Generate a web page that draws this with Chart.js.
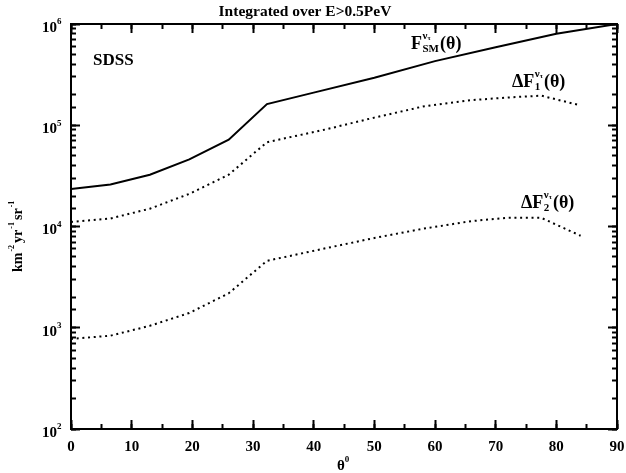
<!DOCTYPE html>
<html>
<head>
<meta charset="utf-8">
<title>Integrated over E>0.5PeV</title>
<script src="https://cdn.jsdelivr.net/npm/chart.js@4.4.1/dist/chart.umd.min.js"></script>
<style>
  html, body { margin: 0; padding: 0; background: #fff; }
  canvas { display: block; }
</style>
</head>
<body>
<canvas id="flux" width="626" height="473"></canvas>
<script>
// zenith angle theta (degrees) vs. integrated flux above 0.5 PeV, km^-2 yr^-1 sr^-1
var smTheta = [0, 6.5, 13, 19.5, 26, 32.3, 40, 50, 60, 70, 80, 90];
var smFlux  = [2.35e4, 2.6e4, 3.25e4, 4.6e4, 7.2e4, 1.62e5, 2.1e5, 2.95e5, 4.3e5, 5.9e5, 8.0e5, 1.0e6];

var deltaTheta = [0, 6.5, 13, 19.5, 26, 32.3, 42, 50, 58, 66, 72, 77.5, 84];
var deltaF1 = [1.11e4, 1.2e4, 1.5e4, 2.1e4, 3.25e4, 6.8e4, 9.1e4, 1.19e5, 1.53e5, 1.77e5, 1.88e5, 1.96e5, 1.57e5];
var deltaF2 = [775, 835, 1045, 1400, 2190, 4580, 6100, 7700, 9500, 11300, 12200, 12200, 8100];

var xTickLabels = [0, 10, 20, 30, 40, 50, 60, 70, 80, 90];
var yDecades = [2, 3, 4, 5, 6];

var SERIF = '"Liberation Serif", "DejaVu Serif", serif';

function points(xs, ys) {
  return xs.map(function(x, i) { return { x: x, y: ys[i] }; });
}

function font(size) {
  return 'bold ' + size + 'px ' + SERIF;
}

// writes a piece of text and returns the x where it ends
function put(ctx, str, x, y, size, dy) {
  ctx.font = font(size);
  ctx.fillText(str, x, y + (dy || 0));
  return x + ctx.measureText(str).width;
}

// F-type curve label: main letter, nu_tau superscript, subscript, then (theta)
function fluxLabel(ctx, prefix, sub, x, y) {
  var x1 = put(ctx, prefix, x, y, 18);
  var xs = put(ctx, 'ν', x1 + 0.5, y, 11, -8);
  xs = put(ctx, 'τ', xs, y, 7, -6);
  var xb = put(ctx, sub, x1 + 0.5, y, 11, 5);
  put(ctx, '(θ)', Math.max(xs, xb) + 1, y, 18);
}

function isDecade(v) {
  var m = v / Math.pow(10, Math.round(Math.log10(v)));
  return Math.abs(m - 1) < 1e-6;
}

var decorations = {
  id: 'decorations',
  afterDraw: function(chart) {
    var ctx = chart.ctx;
    var a = chart.chartArea;
    var xs = chart.scales.x;
    var ys = chart.scales.y;

    ctx.save();
    ctx.setLineDash([]);
    ctx.strokeStyle = '#000';
    ctx.fillStyle = '#000';

    // frame
    ctx.lineWidth = 2;
    ctx.strokeRect(a.left, a.top, a.right - a.left, a.bottom - a.top);

    // x tick labels
    ctx.textBaseline = 'middle';
    ctx.textAlign = 'center';
    xTickLabels.forEach(function(v) {
      put(ctx, String(v), xs.getPixelForValue(v), a.bottom + 18, 15);
    });

    // y tick labels 10^n
    ctx.textAlign = 'left';
    yDecades.forEach(function(n) {
      var yy = ys.getPixelForValue(Math.pow(10, n)) + 4;
      var xe = put(ctx, '10', a.left - 29, yy, 15);
      put(ctx, String(n), xe, yy, 9, -6);
    });

    // x axis title
    var xt = put(ctx, 'θ', 337, 466, 15);
    put(ctx, '0', xt, 466, 9, -6);

    // y axis title, rotated
    ctx.save();
    ctx.translate(18, 272);
    ctx.rotate(-Math.PI / 2);
    var tx = put(ctx, 'km', 0, 0, 14);
    tx = put(ctx, '-2', tx + 1, 0, 8, -6);
    tx = put(ctx, 'yr', tx + 2, 0, 14);
    tx = put(ctx, '-1', tx + 1, 0, 8, -6);
    tx = put(ctx, 'sr', tx + 2, 0, 14);
    put(ctx, '-1', tx + 1, 0, 8, -6);
    ctx.restore();

    // plot title and annotations
    ctx.textAlign = 'center';
    put(ctx, 'Integrated over E>0.5PeV', 305, 12, 15.5);
    ctx.textAlign = 'left';
    put(ctx, 'SDSS', 93, 61, 17);
    fluxLabel(ctx, 'F', 'SM', 411, 44);
    fluxLabel(ctx, 'ΔF', '1', 512, 82);
    fluxLabel(ctx, 'ΔF', '2', 521, 203);

    ctx.restore();
  }
};

// tick-only axes pinned to the box edges by data value; the sign of
// tickLength picks the direction, so every mark points into the plot
function tickGrid(len) {
  return {
    display: true,
    drawOnChartArea: false,
    drawTicks: true,
    tickLength: len,
    tickWidth: 2,
    tickColor: '#000'
  };
}

function thetaTicks(atFlux, step, len) {
  return {
    type: 'linear',
    axis: 'x',
    position: { y: atFlux },
    min: 0,
    max: 90,
    ticks: { display: false, stepSize: step, autoSkip: false },
    grid: tickGrid(len),
    border: { display: false }
  };
}

function fluxTicks(atTheta, decadesOnly, len) {
  var axis = {
    type: 'logarithmic',
    axis: 'y',
    position: { x: atTheta },
    min: 100,
    max: 1e6,
    ticks: { display: false, autoSkip: false },
    grid: tickGrid(len),
    border: { display: false }
  };
  if (decadesOnly) {
    axis.afterBuildTicks = function(s) {
      s.ticks = s.ticks.filter(function(t) { return isDecade(t.value); });
    };
  }
  return axis;
}

var ctx = document.getElementById('flux').getContext('2d');
var chart = new Chart(ctx, {
  type: 'line',
  data: {
    datasets: [
      {
        label: 'F_SM',
        data: points(smTheta, smFlux),
        borderColor: '#000',
        borderWidth: 2
      },
      {
        label: 'dF1',
        data: points(deltaTheta, deltaF1),
        borderColor: '#000',
        borderWidth: 2,
        borderDash: [2, 3.7]
      },
      {
        label: 'dF2',
        data: points(deltaTheta, deltaF2),
        borderColor: '#000',
        borderWidth: 2,
        borderDash: [2, 3.7]
      }
    ]
  },
  options: {
    responsive: false,
    animation: false,
    devicePixelRatio: 1,
    layout: { padding: { left: 63, right: 9, top: 24, bottom: 36 } },
    elements: {
      point: { radius: 0 },
      line: { tension: 0, fill: false }
    },
    scales: {
      x: {
        type: 'linear',
        min: 0,
        max: 90,
        ticks: { display: false },
        grid: { display: false },
        border: { display: false }
      },
      y: {
        type: 'logarithmic',
        min: 100,
        max: 1e6,
        ticks: { display: false },
        grid: { display: false },
        border: { display: false }
      },
      xBottomMinor: thetaTicks(100, 5, -5),
      xBottomMajor: thetaTicks(100, 10, -9),
      xTopMinor: thetaTicks(1e6, 5, 5),
      xTopMajor: thetaTicks(1e6, 10, 9),
      yLeftMinor: fluxTicks(0, false, -5),
      yLeftMajor: fluxTicks(0, true, -9),
      yRightMinor: fluxTicks(90, false, 5),
      yRightMajor: fluxTicks(90, true, 9)
    },
    plugins: {
      legend: { display: false },
      tooltip: { enabled: false }
    }
  },
  plugins: [decorations]
});
</script>
</body>
</html>
